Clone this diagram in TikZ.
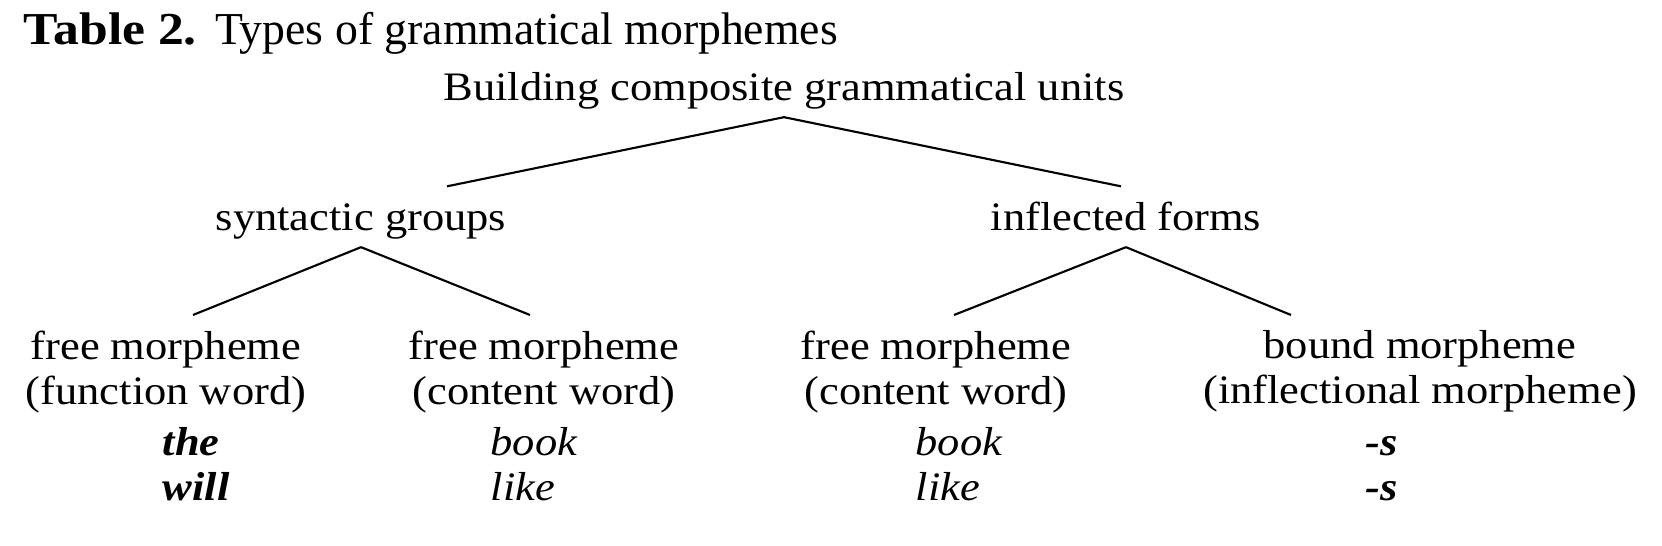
\documentclass[tikz,border=0pt]{standalone}
\usepackage{fontspec}
\setmainfont{Liberation Serif}
\newfontfamily\treefont[FakeStretch=1.1]{Liberation Serif}
\newfontfamily\headfont[FakeStretch=1.13]{Liberation Serif}
\usetikzlibrary{positioning, calc}

\begin{document}
\begin{tikzpicture}[x=0.01cm, y=-0.01cm,
	lbl/.style={font=\treefont\fontsize{11.5}{12.8}\selectfont, inner xsep=0pt, inner ysep=2pt,
		text height=10.5pt, text depth=2.4pt, anchor=base},
	cat/.style={font=\treefont\fontsize{11.5}{12.8}\selectfont, inner sep=0pt, align=center, anchor=north},
	ex/.style={font=\treefont\fontsize{11.5}{12.8}\selectfont\itshape, inner sep=0pt, anchor=base west},
	br/.style={line width=0.6pt}]
	\useasboundingbox (0,0) rectangle (1662,546);
	% title
	\node[anchor=base west, inner sep=0pt, font=\fontsize{13}{15}\selectfont] (title) at (23,45)
		{{\headfont\bfseries Table 2.}\hspace{0.4em}Types of grammatical morphemes};
	% tree
	\node[lbl] (root) at (784,101) {Building composite grammatical units};
	\node[lbl] (syn) at (361,231) {syntactic groups};
	\node[lbl] (infl) at (1126,231) {inflected forms};
	\node[cat] (fmf) at (166,330) {free morpheme\\(function word)};
	\node[cat] (fmc) at (544,330) {free morpheme\\(content word)};
	\node[cat] (fmi) at (936,330) {free morpheme\\(content word)};
	\node[cat] (bmi) at (1420,330) {bound morpheme\\(inflectional morpheme)};
	\draw[br] (root.south) -- ($(syn.north)+(86,0)$);
	\draw[br] (root.south) -- ($(infl.north)+(-5,0)$);
	\draw[br] (syn.south) -- ($(fmf.north)+(27,-15)$);
	\draw[br] (syn.south) -- ($(fmc.north)+(-14,-15)$);
	\draw[br] (infl.south) -- ($(fmi.north)+(18,-15)$);
	\draw[br] (infl.south) -- ($(bmi.north)+(-129,-15)$);
	% examples
	\node[ex] (the) at (162,456) {\bfseries the};
	\node[ex] (will) at (162,501) {\bfseries will};
	\node[ex] (bookc) at (490,456) {book};
	\node[ex] (likec) at (490,501) {like};
	\node[ex] (booki) at (915,456) {book};
	\node[ex] (likei) at (915,501) {like};
	\node[ex] (sa) at (1365,456) {\bfseries -s};
	\node[ex] (sb) at (1365,501) {\bfseries -s};
\end{tikzpicture}
\end{document}
